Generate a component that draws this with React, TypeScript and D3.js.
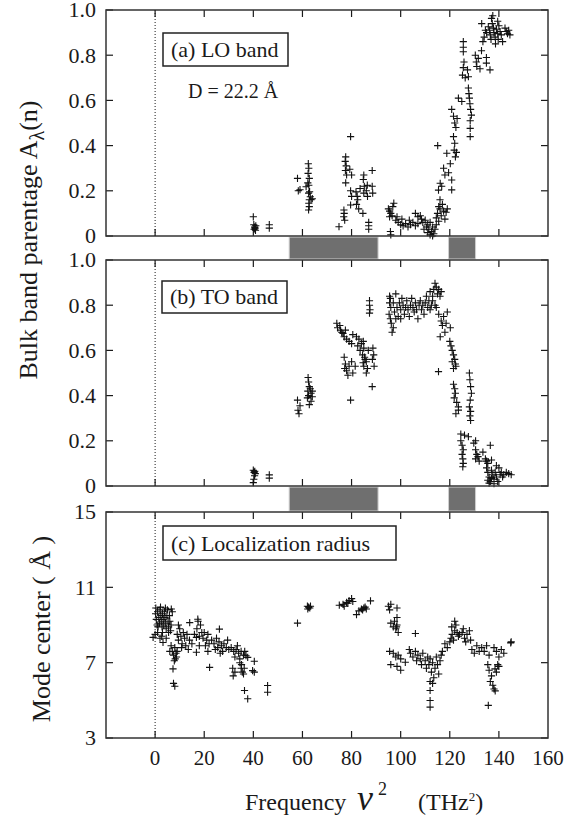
import React from 'react';
import * as d3 from 'd3';

// frequency axis (nu^2, THz^2)
const xTickMarks = [0, 20, 40, 60, 80, 100, 120, 140];
const xTickLabels = [0, 20, 40, 60, 80, 100, 120, 140, 160];
const parentageTicks = [0, 0.2, 0.4, 0.6, 0.8, 1.0];
const radiusTicks = [3, 7, 11, 15];

// gray bars drawn in the gaps between panels
const gapBands = [[54.6, 90.8], [119.5, 130.5]];

// (a) LO band parentage
const loBand = [
  [40, 0.085], [40.2, 0.05], [40.5, 0.04], [40.3, 0.03], [41, 0.045], [40.7, 0.035], [40.9, 0.025], [46.5, 0.05], [46.5, 0.035],
  [58, 0.255], [58.3, 0.2], [59, 0.205], [62.4, 0.32], [62.6, 0.3], [62.3, 0.277], [62.8, 0.255], [62.2, 0.235], [62.6, 0.225],
  [61.5, 0.218], [62.9, 0.196], [62.5, 0.19], [63.2, 0.174], [63.5, 0.16], [62.8, 0.16], [64, 0.165], [62.6, 0.145], [62.8, 0.13], [62.5, 0.115],
  [74.9, 0.041], [76.9, 0.115], [77, 0.1], [76.8, 0.085], [77.2, 0.07], [77.6, 0.35], [77.4, 0.33], [77.8, 0.31], [77.5, 0.29],
  [78, 0.27], [77.6, 0.235], [79.6, 0.44], [79.3, 0.295], [80, 0.27], [79.6, 0.2], [80, 0.175], [79.6, 0.137], [81.8, 0.195],
  [82.3, 0.175], [82.5, 0.16], [82, 0.14], [82.9, 0.12], [83.5, 0.21], [85, 0.27], [84.8, 0.25], [85.2, 0.22], [85, 0.19],
  [84.6, 0.1], [86.4, 0.225], [86, 0.2], [86.5, 0.175], [87, 0.06], [87, 0.045], [87, 0.03], [88.4, 0.29], [88.4, 0.22], [88.6, 0.19],
  [95, 0.12], [95.5, 0.11], [96, 0.1], [96.5, 0.09], [96.8, 0.13], [97.2, 0.145], [95.5, 0.085], [95.8, 0.02], [96, 0.005],
  [98, 0.07], [98.5, 0.085], [99, 0.06], [100, 0.05], [100.5, 0.075], [101, 0.045], [102, 0.055], [103, 0.04], [103.5, 0.07],
  [104, 0.05], [105, 0.06], [106, 0.045], [106, 0.1], [107, 0.085], [107, 0.055], [108, 0.09], [108.5, 0.075], [109, 0.06],
  [109.5, 0.03], [110, 0.07], [110.5, 0.04], [111, 0.05], [111, 0.015], [111.5, 0.03], [112, 0.06], [112, 0.005], [112.5, 0.02],
  [113, 0.04], [113, 0.0], [113.5, 0.01], [114, 0.03], [114.5, 0.05],
  [114.5, 0.08], [115, 0.1], [115.5, 0.065], [115.5, 0.13], [116, 0.12], [116, 0.16], [116.5, 0.09], [117, 0.14], [117.5, 0.11],
  [118, 0.075], [118.5, 0.105], [119, 0.12], [115.4, 0.203], [116.1, 0.233], [116.7, 0.22], [115.1, 0.4], [118.8, 0.366],
  [117.5, 0.3], [118, 0.27], [119.5, 0.28], [120.2, 0.32], [120.8, 0.248], [120.8, 0.204], [121.5, 0.44], [122, 0.41],
  [121.8, 0.38], [122.3, 0.35], [122.7, 0.37], [120.8, 0.56], [121.5, 0.53], [122, 0.5], [122.5, 0.48], [123, 0.52], [123.5, 0.61], [124.9, 0.595],
  [127.6, 0.655], [127.8, 0.63], [128, 0.61], [128.2, 0.585], [128.5, 0.56], [128.8, 0.535], [128.3, 0.51], [128.3, 0.476], [128.3, 0.44],
  [125.5, 0.86], [125.5, 0.835], [125.5, 0.815], [125.8, 0.77], [125.5, 0.745], [125.2, 0.712], [126.3, 0.7], [127.6, 0.705], [127.2, 0.735],
  [130.4, 0.8], [130.8, 0.77], [131.6, 0.786], [131, 0.75], [132.3, 0.74], [132.9, 0.82], [134.9, 0.79], [134.9, 0.765], [136.4, 0.735],
  [133.5, 0.86], [134, 0.88], [135, 0.9], [135.7, 0.926], [136.2, 0.91], [136.5, 0.89], [137, 0.963], [137.3, 0.94], [137.8, 0.92],
  [138, 0.9], [138.5, 0.88], [139, 0.915], [139.5, 0.895], [139.7, 0.87], [140, 0.93], [140.5, 0.905], [141, 0.89], [141.5, 0.86],
  [142.5, 0.92], [143, 0.905], [143.5, 0.895], [144, 0.91], [144.5, 0.89], [138.6, 0.85], [136.8, 0.87], [134.5, 0.91], [133, 0.94],
  [139.5, 0.95], [137.5, 0.975],
];

// (b) TO band parentage
const toBand = [
  [40, 0.07], [40.3, 0.06], [40.8, 0.055], [40.5, 0.045], [40.6, 0.065], [40.2, 0.03], [40, 0.015], [46.5, 0.049], [46.5, 0.035],
  [58, 0.38], [58.2, 0.335], [59, 0.355], [58.6, 0.32],
  [62.3, 0.48], [62.5, 0.46], [62.8, 0.44], [62.2, 0.42], [63.5, 0.41], [62.5, 0.4], [64, 0.395], [62, 0.39], [63.5, 0.375],
  [62.8, 0.36], [63.2, 0.43], [64, 0.42],
  [74, 0.72], [74.3, 0.7], [75.2, 0.71], [75.5, 0.69], [76, 0.68], [76.5, 0.675], [77, 0.66], [78, 0.65], [79, 0.64], [80, 0.63],
  [77.5, 0.69], [80.5, 0.67], [82, 0.66], [83, 0.65], [82.5, 0.62], [84, 0.63], [85, 0.61], [83.5, 0.6], [84.8, 0.64],
  [77, 0.57], [77.5, 0.54], [78, 0.51], [79, 0.53], [80, 0.55], [80.5, 0.5], [81.5, 0.53], [78.5, 0.49], [79.6, 0.38], [77.2, 0.52],
  [84.5, 0.58], [85.5, 0.56], [86, 0.55], [85, 0.53], [86.5, 0.52], [84.7, 0.545], [86, 0.5], [86.8, 0.6], [85.3, 0.57],
  [88.7, 0.61], [89, 0.58], [88.5, 0.56], [89.2, 0.53], [88.4, 0.44],
  [87.3, 0.82], [87.3, 0.8], [87.5, 0.78], [87.3, 0.765],
  [95.5, 0.84], [95.5, 0.81], [96, 0.79], [95.3, 0.76], [95.8, 0.74], [96.2, 0.72], [97, 0.7], [96.5, 0.68], [95.8, 0.83],
  [97.5, 0.77], [98, 0.74], [98.5, 0.79], [99, 0.75], [99.5, 0.81], [100, 0.78], [100.5, 0.83], [101, 0.8], [101.5, 0.76],
  [102, 0.79], [102.5, 0.82], [103, 0.78], [103.5, 0.75], [104, 0.8], [104.5, 0.83], [105, 0.79], [105.5, 0.77], [106, 0.81],
  [106.5, 0.78], [107, 0.74], [107.5, 0.8], [108, 0.82], [108.5, 0.78], [109, 0.8], [109.5, 0.76], [110, 0.81], [110.5, 0.84],
  [111, 0.79], [111.5, 0.82], [112, 0.86], [112.5, 0.8], [113, 0.84], [113.5, 0.87], [114, 0.897], [114.5, 0.88], [115, 0.85],
  [115.5, 0.87], [116, 0.84], [116.5, 0.86], [113, 0.82], [114, 0.8], [112, 0.78], [98, 0.85], [97, 0.81], [100, 0.74],
  [114.5, 0.79], [115.5, 0.76], [116.5, 0.73], [117, 0.71], [118, 0.68], [117.5, 0.75], [118.5, 0.72], [119, 0.77], [116.1, 0.66],
  [120.2, 0.7], [115.4, 0.506],
  [120, 0.64], [120.5, 0.62], [121, 0.6], [121.5, 0.58], [122, 0.56], [121, 0.55], [122.5, 0.53], [121.5, 0.52], [122.3, 0.54],
  [121.5, 0.45], [122, 0.43], [122.3, 0.41], [121.8, 0.39], [122.8, 0.37], [123.5, 0.35], [122.5, 0.32], [123.5, 0.336],
  [128, 0.5], [128.2, 0.47], [128.5, 0.44], [128.8, 0.41], [128.3, 0.38], [128, 0.35], [128.5, 0.33], [128.2, 0.31], [128.5, 0.29],
  [124.5, 0.23], [126, 0.225], [124.5, 0.2], [125, 0.18], [125.5, 0.16], [125, 0.14], [125.3, 0.12], [125.5, 0.1], [125.3, 0.085], [127.6, 0.218],
  [129.8, 0.19], [130.5, 0.2], [130.5, 0.16], [131, 0.14], [131.5, 0.13], [132, 0.11], [130.5, 0.12],
  [136.5, 0.18], [134.5, 0.12], [135, 0.11], [135.5, 0.1], [137, 0.115], [133.5, 0.15],
  [135, 0.08], [135.5, 0.06], [136, 0.04], [136.5, 0.02], [137, 0.07], [137.5, 0.05], [138, 0.03], [138.5, 0.06], [139, 0.04],
  [139.5, 0.02], [140, 0.08], [140.5, 0.05], [141, 0.06], [142, 0.05], [143, 0.06], [144, 0.055], [145, 0.05], [136, 0.013],
  [138, 0.01], [139, 0.09], [141.5, 0.04], [137, 0.035], [135.5, 0.025],
];

// (c) localization radius / mode center (Angstrom)
const modeCenter = [
  [0.2, 9.6], [0.5, 9.3], [0.8, 9.0], [1, 9.7], [1.5, 9.4], [1.8, 9.1], [2, 9.8], [2.3, 9.5], [2.5, 9.2], [2.8, 8.9], [3, 9.6],
  [3.3, 9.3], [3.5, 9.0], [3.8, 9.7], [4, 9.4], [4.3, 9.1], [4.5, 8.8], [4.8, 9.5], [5, 9.8], [5.3, 9.2], [5.5, 8.9], [5.8, 9.5],
  [6, 9.2], [6.3, 8.7], [0, 8.5], [1, 8.6], [2, 8.3], [3, 8.6], [6.5, 9.0], [7, 9.7], [1.2, 8.9], [2.7, 8.4], [4.5, 8.3], [5.5, 8.6],
  [-0.8, 8.34], [3.2, 8.07], [0.3, 9.9], [2.2, 9.95], [4.2, 9.9], [6.6, 9.85],
  [6.5, 7.9], [7, 7.6], [7.5, 7.4], [8, 7.8], [8.5, 7.5], [8.2, 7.2], [7.8, 7.1], [9, 7.6], [8.7, 7.3], [6, 7.6], [7.3, 6.67], [7.5, 5.9], [8, 5.75],
  [9, 8.5], [9.5, 8.2], [10, 8.8], [10.5, 8.4], [11, 8.0], [11.5, 8.6], [12, 8.3], [12.5, 7.9], [13, 8.5], [14, 8.2], [15, 8.0],
  [13.5, 7.7], [9.5, 9.0], [10.8, 7.8], [14.1, 9.13], [17.4, 9.31], [19, 8.6], [16.8, 8.34], [16.8, 7.55],
  [16, 8.5], [17, 8.8], [17.5, 9.2], [18, 8.4], [18.5, 9.0], [19.5, 8.3], [20, 8.6], [21, 8.2], [21.5, 8.5], [22, 8.0], [20.5, 7.9],
  [18, 7.9], [21.5, 7.6], [22.2, 6.75],
  [23, 8.2], [24, 8.0], [25, 8.3], [25.5, 7.8], [26, 8.1], [26.2, 8.78], [27, 7.9], [27.5, 7.6], [28, 8.0], [29, 7.8], [30, 7.7],
  [26.5, 7.5], [29.5, 8.2], [24.5, 7.7], [31, 7.8], [32, 7.6], [33, 7.7], [34, 7.5], [35, 7.6], [36, 7.4], [36.5, 7.6], [33.5, 7.9],
  [32.5, 7.3], [34.5, 7.2], [37, 7.37], [37.7, 7.28],
  [31.6, 6.7], [31.8, 6.3], [32.5, 6.5], [34.5, 7.0], [35, 6.7], [35.5, 6.5], [36, 6.4], [35.2, 6.9], [36.3, 6.7], [40.4, 7.07],
  [39.7, 6.58], [40.4, 6.5], [36.4, 5.52], [37.7, 5.08], [45.8, 5.79], [45.8, 5.43],
  [58, 9.1], [62, 10.0], [62.5, 9.95], [63, 9.9], [62.2, 9.85], [63.3, 10.0],
  [75, 10.05], [76.5, 10.1], [77, 10.0], [78, 10.2], [79, 10.3], [80, 10.4], [80.5, 10.25], [78.5, 10.15],
  [82, 9.55], [83, 9.75], [84, 9.85], [84.5, 9.8], [85, 9.9], [85.5, 9.95], [86, 9.85], [87.7, 10.28],
  [95, 10.0], [95.5, 9.8], [96, 10.1], [98.5, 9.9], [98.5, 9.4], [96, 9.1], [97, 8.9], [97.5, 9.2], [98, 8.8], [98.5, 9.0], [99, 8.6], [98.3, 8.9],
  [95.5, 7.6], [97, 7.5], [98, 7.3], [99, 7.4], [100, 7.2], [96, 6.9], [98.5, 6.8], [100, 6.6], [101.9, 7.02], [106, 8.55],
  [103.5, 7.7], [104, 7.5], [105, 7.3], [106, 7.6], [106.5, 7.1], [107, 7.4], [108, 7.2], [108.5, 6.9], [109, 7.5], [110, 7.1],
  [110.5, 6.7], [111, 7.3], [111.5, 6.9], [112, 7.2], [112.5, 6.5], [113, 7.0], [113.5, 6.2], [114, 6.7], [114.5, 7.3], [115, 6.9],
  [116, 7.1], [116.5, 7.4], [117, 7.6], [115.5, 6.4], [112, 6.0], [113, 5.9], [112, 5.52], [112, 4.99], [112, 4.64],
  [118, 8.0], [119, 7.8], [120, 8.1], [120.5, 8.3], [121, 8.5], [121.5, 8.2], [122, 8.7], [122.5, 9.0], [123, 8.6], [122, 9.2], [120.8, 8.9],
  [123.5, 8.4], [124, 8.5], [125, 8.6], [126, 8.3], [127, 8.5], [128, 8.7], [126.5, 8.1], [128.5, 8.2], [125.5, 8.8],
  [129, 7.7], [130, 7.5], [131, 7.9], [132, 7.6], [133, 7.8],
  [134, 7.6], [135, 7.9], [136, 7.4], [138, 7.8], [139, 7.6], [140, 7.3], [141, 7.7], [142, 7.5], [145, 8.1], [144.8, 8.05],
  [135.5, 6.9], [136, 6.6], [137, 6.3], [136.5, 6.0], [137.5, 5.8], [138, 5.6], [139, 6.5], [140, 6.8], [138.5, 5.5], [139.5, 6.9],
  [135.7, 4.73], [138.4, 6.67],
];

const INK = '#1a1a1a';
const SERIF = 'Liberation Serif';

const x = d3.scaleLinear().domain([-20, 160]).range([106, 548]);

const fmtPart = (v) => (v === 0 ? '0' : d3.format('.1f')(v));

const panels = [
  {
    id: 'a', y: d3.scaleLinear().domain([0, 1]).range([236, 10]), ticks: parentageTicks, fmt: fmtPart, data: loBand,
    label: '(a) LO band', box: { x: 163, y: 33, w: 125, h: 33 },
  },
  {
    id: 'b', y: d3.scaleLinear().domain([0, 1]).range([486, 260]), ticks: parentageTicks, fmt: fmtPart, data: toBand,
    label: '(b) TO band', box: { x: 162, y: 281, w: 125, h: 32 },
  },
  {
    id: 'c', y: d3.scaleLinear().domain([3, 15]).range([738, 512]), ticks: radiusTicks, fmt: (v) => String(v), data: modeCenter,
    label: '(c) Localization radius', box: { x: 163, y: 526, w: 233, h: 34 },
  },
];

function crosses(data, y) {
  const r = 3.6;
  return data.map(([u, v]) => {
    const px = x(u), py = y(v);
    return `M${(px - r).toFixed(1)},${py.toFixed(1)}h${2 * r}M${px.toFixed(1)},${(py - r).toFixed(1)}v${2 * r}`;
  }).join('');
}

// text helper: family given both as attribute and inline style
function T({ children, size, ...rest }) {
  return (
    <text fontFamily={SERIF} fontSize={size} fill={INK} style={{ fontFamily: `'${SERIF}'` }} {...rest}>{children}</text>
  );
}

function Panel({ p }) {
  const [x0, x1] = x.range();
  const [yb, yt] = p.y.range();
  const tl = 7;
  return (
    <g>
      <line x1={x(0)} x2={x(0)} y1={yt} y2={yb} stroke={INK} strokeWidth={1} strokeDasharray="1,2" />
      {xTickMarks.map((t) => (
        <g key={t}>
          <line x1={x(t)} x2={x(t)} y1={yb} y2={yb - tl} stroke={INK} strokeWidth={1.2} />
          <line x1={x(t)} x2={x(t)} y1={yt} y2={yt + tl} stroke={INK} strokeWidth={1.2} />
        </g>
      ))}
      {p.ticks.map((t) => (
        <g key={t}>
          <line x1={x0} x2={x0 + tl} y1={p.y(t)} y2={p.y(t)} stroke={INK} strokeWidth={1.2} />
          <line x1={x1} x2={x1 - tl} y1={p.y(t)} y2={p.y(t)} stroke={INK} strokeWidth={1.2} />
          <T x={x0 - 10} y={p.y(t)} dy="0.34em" textAnchor="end" size={22}>{p.fmt(t)}</T>
        </g>
      ))}
      <path d={crosses(p.data, p.y)} stroke="#111" strokeWidth={1.1} fill="none" />
      <rect x={x0} y={yt} width={x1 - x0} height={yb - yt} fill="none" stroke="#333" strokeWidth={1.5} />
      <rect x={p.box.x} y={p.box.y} width={p.box.w} height={p.box.h} fill="#fff" stroke="#222" strokeWidth={1.5} />
      <T x={p.box.x + 8} y={p.box.y + p.box.h - 9} size={22}>{p.label}</T>
    </g>
  );
}

export default function App() {
  const bandRows = [
    [panels[0].y.range()[0], panels[1].y.range()[1]],
    [panels[1].y.range()[0], panels[2].y.range()[1]],
  ];
  return (
    <svg width={581} height={816} style={{ position: 'absolute', left: 0, top: 0, background: '#fff' }}>
      <style>{`text, tspan { font-family: 'Liberation Serif', 'Times New Roman', Times, serif !important; }`}</style>
      {bandRows.map(([top, bottom], i) => gapBands.map(([a, b], j) => (
        <rect key={`${i}-${j}`} x={x(a)} y={top + 1} width={x(b) - x(a)} height={bottom - top - 2}
          fill="#6f6f6f" stroke="#cfcfcf" strokeWidth={1} />
      )))}
      {panels.map((p) => <Panel key={p.id} p={p} />)}
      <T x={188} y={98} size={20}>D = 22.2 Å</T>
      {xTickLabels.map((t) => (
        <T key={t} x={x(t)} y={765} textAnchor="middle" size={21}>{t}</T>
      ))}
      <T transform="translate(37,240) rotate(-90)" textAnchor="middle" size={26}>
        Bulk band parentage A<tspan dy={7} fontSize={20}>λ</tspan><tspan dy={-7}>(n)</tspan>
      </T>
      <T transform="translate(50,629) rotate(-90)" textAnchor="middle" size={26}>Mode center ( Å )</T>
      <T x={245} y={810} size={24}>Frequency</T>
      <T x={357} y={810} size={36} fontStyle="italic">ν</T>
      <T x={378} y={795} size={18}>2</T>
      <T x={418} y={810} size={24}>(THz<tspan dy={-9} fontSize={13}>2</tspan><tspan dy={9}>)</tspan></T>
    </svg>
  );
}
